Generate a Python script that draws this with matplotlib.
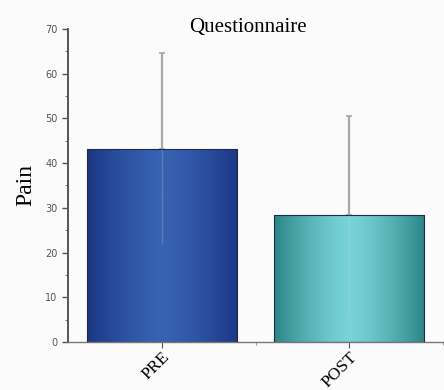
import matplotlib.pyplot as plt
import numpy as np
from matplotlib.colors import LinearSegmentedColormap

groups = ['PRE', 'POST']
means = [43.2, 28.3]
sd = [21.3, 22.3]
y_ticks = [0, 10, 20, 30, 40, 50, 60, 70]

# edge / centre colours for the cylinder shading of each bar
shades = [('#1b3785', '#3862b2'), ('#2a8686', '#78d3d9')]

fig = plt.figure(figsize=(4.44, 3.9), dpi=100)
fig.patch.set_facecolor('#fbfbfb')
ax = fig.add_axes([0.153, 0.123, 0.845, 0.803])
ax.set_facecolor('#fbfbfb')

x = np.arange(len(groups))
w = 0.8
bars = ax.bar(x, means, width=w, color='none', edgecolor='#1d2a4a', lw=0.8, zorder=3)

grad = np.abs(np.linspace(-1, 1, 256)) ** 1.4
for b, (edge, mid) in zip(bars, shades):
    cmap = LinearSegmentedColormap.from_list('s', [mid, edge])
    x0, y0 = b.get_x(), b.get_y()
    im = ax.imshow(grad[None, :], cmap=cmap, aspect='auto', zorder=2,
                   extent=(x0, x0 + b.get_width(), y0, y0 + b.get_height()))
    im.set_clip_path(b)

# upper whisker drawn solid, lower one shows faintly through the bar
ax.errorbar(x, means, yerr=[np.zeros(len(sd)), sd], fmt='none', ecolor='#a8a8a8',
            elinewidth=1.6, capsize=2, capthick=1.2, zorder=1)
ax.errorbar(x, means, yerr=[sd, np.zeros(len(sd))], fmt='none', ecolor='#c8c8c8',
            elinewidth=1.0, capsize=0, alpha=0.25, zorder=4)

ax.set_xlim(-0.5, 1.5)
ax.set_ylim(0, 70)
ax.set_yticks(y_ticks)
ax.set_yticks(np.arange(5, 70, 10), minor=True)
ax.set_xticks(x)
ax.set_xticks([0.5, 1.5], minor=True)
ax.set_xticklabels(groups, rotation=45, ha='right', va='top', rotation_mode='anchor',
                   family='Liberation Serif', fontsize=12.5)
ax.tick_params(axis='y', labelsize=7, labelcolor='#555555', length=4, width=1, color='#555555')
ax.tick_params(axis='y', which='minor', length=2, color='#555555')
ax.tick_params(axis='x', length=4, pad=1, color='#555555')
ax.tick_params(axis='x', which='minor', length=2, color='#888888')

for s in ['top', 'right']:
    ax.spines[s].set_visible(False)
ax.spines['left'].set_color('#555555')
ax.spines['left'].set_linewidth(1.4)
ax.spines['bottom'].set_color('#777777')
ax.spines['bottom'].set_linewidth(1.0)

ax.set_ylabel('Pain', family='Liberation Serif', fontsize=17, labelpad=6)
ax.set_title('Questionnaire', family='Liberation Serif', fontsize=15, x=0.48, y=0.99, pad=0)

fig.savefig('out.png', dpi=100, facecolor=fig.get_facecolor())
